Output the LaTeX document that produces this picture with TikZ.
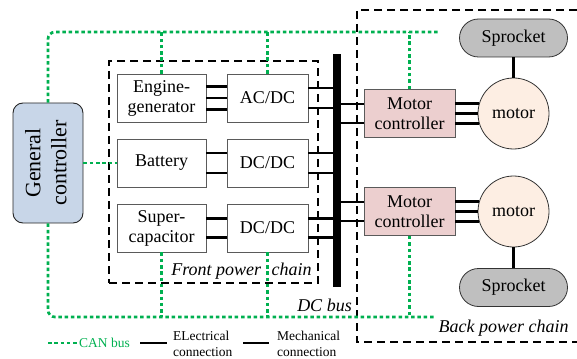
\documentclass[tikz,border=0pt]{standalone}
\usepackage{fontspec}
\usepackage{graphicx}
\setmainfont{Liberation Serif}
\usetikzlibrary{calc}
\definecolor{canGreen}{RGB}{0,176,80}
\definecolor{boxgray}{RGB}{90,90,90}
\definecolor{gcblue}{RGB}{200,214,232}
\definecolor{mcpink}{RGB}{236,207,207}
\definecolor{motorpeach}{RGB}{253,238,227}
\definecolor{sprgray}{RGB}{191,191,191}
\tikzset{
  nodefont/.style={font=\fontsize{18}{20}\selectfont},
  legfont/.style={font=\fontsize{13.5}{16}\selectfont},
  boxnode/.style={draw=boxgray, line width=0.8pt, fill=white, minimum height=48pt,
    inner sep=0pt, align=center, nodefont},
  srcbox/.style={boxnode, minimum width=89pt},
  convbox/.style={boxnode, minimum width=81pt},
  mcbox/.style={boxnode, fill=mcpink, minimum width=91pt, minimum height=48pt},
  motorc/.style={circle, draw=black!80, line width=0.8pt, fill=motorpeach,
    minimum size=71pt, inner sep=0pt, nodefont},
  sprbox/.style={draw=black!80, line width=0.8pt, fill=sprgray, rounded corners=19pt,
    minimum width=108pt, minimum height=38pt, inner sep=0pt, nodefont},
  gcbox/.style={draw=black!85, line width=0.9pt, fill=gcblue, rounded corners=10pt,
    minimum width=70pt, minimum height=120pt, inner sep=0pt,
    font=\fontsize{22}{27}\selectfont},
  canline/.style={canGreen, line width=2.7pt, dash pattern=on 3.5pt off 2.8pt},
  elec/.style={black, line width=2.2pt},
  frameline/.style={black, line width=1.3pt, dash pattern=on 8pt off 5pt},
  lbl/.style={inner sep=0pt, font=\fontsize{18}{20}\selectfont\itshape},
}
\begin{document}
\begin{tikzpicture}[x=1pt,y=-1pt]
\useasboundingbox (0,0) rectangle (577,358);

% frames
\node[frameline, draw, minimum width=209pt, minimum height=222pt, inner sep=0pt] (front) at (213.5,172) {};
\coordinate (bk1) at (577,10);
\coordinate (bk2) at (357,10);
\coordinate (bk3) at (357,342);
\coordinate (bk4) at (577,342);
\draw[frameline] (bk1) -- (bk2) -- (bk3) -- (bk4);

% nodes
\node[gcbox] (gc) at (48,163) {\rotatebox{90}{\begin{tabular}{@{}c@{}}General\\[-1pt]controller\end{tabular}}};
\node[srcbox] (eng) at (161.5,98) {Engine-\\generator};
\node[convbox] (acdc) at (267.5,98) {AC/DC};
\node[srcbox] (bat) at (161.5,163) {Battery};
\node[convbox] (dcdc1) at (267.5,163) {DC/DC};
\node[srcbox] (sup) at (161.5,228) {Super-\\capacitor};
\node[convbox] (dcdc2) at (267.5,228) {DC/DC};
\node[fill=black, minimum width=8pt, minimum height=233pt, inner sep=0pt] (bus) at (337,170.5) {};
\node[mcbox] (mc1) at (409.5,113.5) {Motor\\controller};
\node[mcbox] (mc2) at (409.5,211.5) {Motor\\controller};
\node[motorc] (mot1) at (513.5,113.5) {motor};
\node[motorc] (mot2) at (513.5,211.5) {motor};
\node[sprbox] (spr1) at (513.5,38) {Sprocket};
\node[sprbox] (spr2) at (513.5,287.5) {Sprocket};

% labels
\node[lbl] (frontlbl) at (241.5,271) {Front power\hspace{6pt} chain};
\node[lbl] (buslbl) at (324.5,305) {DC bus};
\node[lbl] (backlbl) at (503.5,328) {Back power chain};

% electrical connections
\foreach \s in {11.5,0,-11.5}
  \draw[elec] ([yshift=\s pt]eng.east) -- ([yshift=\s pt]eng.east -| acdc.west);
\foreach \s in {10,-10}
  \draw[elec] ([yshift=\s pt]bat.east) -- ([yshift=\s pt]bat.east -| dcdc1.west);
\foreach \s in {9.5,-9.5}
  \draw[elec] ([yshift=\s pt]sup.east) -- ([yshift=\s pt]sup.east -| dcdc2.west);
\foreach \s in {10,-10}
  \draw[elec] ([yshift=\s pt]acdc.east) -- ([yshift=\s pt]acdc.east -| bus.center);
\foreach \s in {10,-10}
  \draw[elec] ([yshift=\s pt]dcdc1.east) -- ([yshift=\s pt]dcdc1.east -| bus.center);
\foreach \s in {9.5,-9.5}
  \draw[elec] ([yshift=\s pt]dcdc2.east) -- ([yshift=\s pt]dcdc2.east -| bus.center);
\foreach \s in {9.5,-9.5}
  \draw[elec] ([yshift=\s pt]mc1.west) -- ([yshift=\s pt]mc1.west -| bus.center);
\foreach \s in {9.5,-9.5}
  \draw[elec] ([yshift=\s pt]mc2.west) -- ([yshift=\s pt]mc2.west -| bus.center);
\draw[elec] ([yshift=10pt]mc1.east) -- ([yshift=10pt]mc1.east -| mot1.163.6);
\draw[elec] (mc1.east) -- (mot1.west);
\draw[elec] ([yshift=-10pt]mc1.east) -- ([yshift=-10pt]mc1.east -| mot1.196.4);
\draw[elec] ([yshift=10pt]mc2.east) -- ([yshift=10pt]mc2.east -| mot2.163.6);
\draw[elec] (mc2.east) -- (mot2.west);
\draw[elec] ([yshift=-10pt]mc2.east) -- ([yshift=-10pt]mc2.east -| mot2.196.4);

% mechanical connections
\draw[elec] (spr1.south) -- (mot1.north);
\draw[elec] (mot2.south) -- (spr2.north);

% CAN bus
\coordinate (cantop) at (440,32);
\coordinate (canbot) at (434,317);
\draw[canline, rounded corners=7pt] (gc.north) |- (cantop);
\draw[canline] (eng.north) -- (eng.north |- cantop);
\draw[canline] (acdc.north) -- (acdc.north |- cantop);
\draw[canline] (mc1.north) -- (mc1.north |- cantop);
\draw[canline, rounded corners=7pt] (gc.south) |- (canbot);
\draw[canline] (sup.south) -- (sup.south |- canbot);
\draw[canline] (dcdc2.south) -- (dcdc2.south |- canbot);
\draw[canline] (mc2.south) -- (mc2.south |- canbot);
\draw[canline] (gc.east) -- (bat.west);

% legend
\node[legfont, text=canGreen, anchor=west, inner sep=0pt] (lcan) at (79,343) {CAN bus};
\coordinate (lcanstart) at (48,343);
\draw[canline] (lcanstart) -- (lcan.west);
\node[legfont, anchor=west, inner sep=0pt, align=left] (lel) at (173,343.5) {ELectrical\\connection};
\coordinate (lels) at (140,343);
\coordinate (lele) at (167,343);
\draw[elec, line width=2.6pt] (lels) -- (lele);
\node[legfont, anchor=west, inner sep=0pt, align=left] (lme) at (277,343.5) {Mechanical\\connection};
\coordinate (lmes) at (243,343);
\coordinate (lmee) at (269,343);
\draw[elec, line width=2.6pt] (lmes) -- (lmee);
\end{tikzpicture}
\end{document}
